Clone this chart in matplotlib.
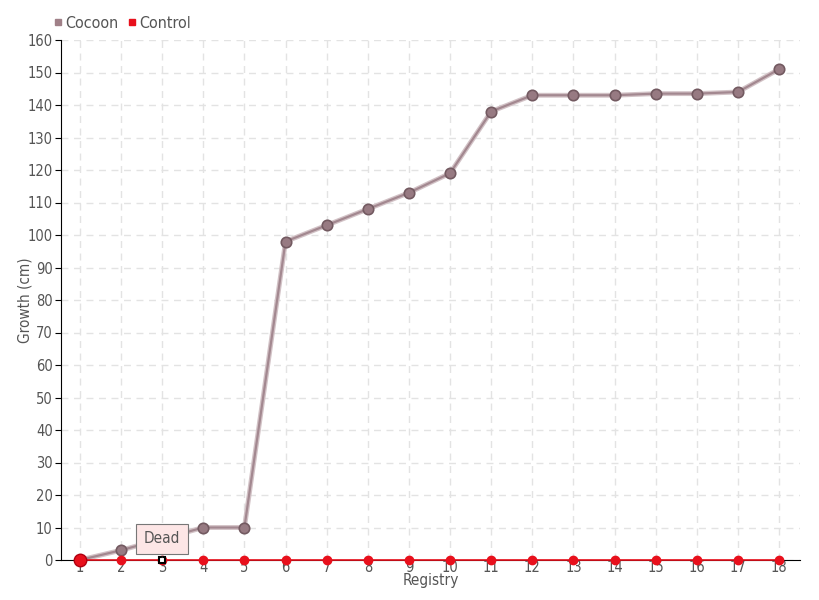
'''Growth registry chart: Cocoon vs Control'''

# ----------------------------------------------------------------------------
# Modules
from matplotlib import pyplot as plt
from matplotlib.lines import Line2D
import numpy as np

# ----------------------------------------------------------------------------
# Data
registry = list(range(1, 19))
cocoon = [0, 3, 6.5, 10, 10, 98, 103, 108, 113, 119, 138, 143, 143, 143,
          143.5, 143.5, 144, 151]
control = [0] * 18
dead_at = 3
y_ticks = list(range(0, 161, 10))

# ----------------------------------------------------------------------------


def main():
    plt.rcParams['font.family'] = ['DejaVu Sans']
    plt.rcParams['font.stretch'] = 'condensed'
    text_col = '#555555'

    fig = plt.figure(figsize=(8.2, 6), dpi=100)
    ax = fig.add_axes([61 / 820, 40 / 600, 739 / 820, 520 / 600])

    ax.grid(True, linestyle=(0, (5, 4)), color='#e3e3e3', linewidth=1)
    ax.set_axisbelow(True)

    # Cocoon line (with slight shadow)
    ax.plot(registry, cocoon, color='#d2c2c6', linewidth=3.5, zorder=2)
    ax.plot(registry, cocoon, color='#a38890', linewidth=1.6, marker='o',
            markersize=7.5, markerfacecolor='#977a82',
            markeredgecolor='#735a61', markeredgewidth=1.2, zorder=3)

    # Control line
    ax.plot(registry, control, color='#e8101c', linewidth=1.2, marker='o',
            markersize=6, markerfacecolor='#e8101c', markeredgecolor='#e8101c',
            zorder=4, clip_on=False)
    ax.plot([1], [0], marker='o', markersize=9, color='#e8101c',
            markeredgecolor='#b00010', zorder=5, clip_on=False)
    ax.plot([dead_at], [0], marker='s', markersize=5, markerfacecolor='white',
            markeredgecolor='black', markeredgewidth=1.5, zorder=6,
            clip_on=False)

    # Tooltip
    ax.annotate('Dead', xy=(dead_at, 0), xytext=(dead_at, 6.5),
                ha='center', va='center', fontsize=11, color=text_col,
                bbox=dict(boxstyle='square,pad=0.5', fc='#fde6e6',
                          ec='#777777', lw=0.8),
                arrowprops=dict(arrowstyle='-', color='#777777', lw=0.8),
                zorder=7)

    ax.set_xlim(0.54, 18.51)
    ax.set_ylim(0, 160)
    ax.set_xticks(registry)
    ax.set_yticks(y_ticks)
    ax.tick_params(axis='y', direction='out', length=4, color='black',
                   labelsize=10.5, labelcolor=text_col, pad=2)
    ax.tick_params(axis='x', length=0, labelsize=10.5, labelcolor=text_col,
                   pad=0)

    for side in ['top', 'right']:
        ax.spines[side].set_visible(False)
    ax.spines['left'].set_color('black')
    ax.spines['bottom'].set_color('black')

    ax.set_xlabel('Registry', fontsize=11, color=text_col, va='center')
    ax.xaxis.set_label_coords(0.5, -21 / 520)
    ax.set_ylabel('Growth (cm)', fontsize=11, color=text_col, va='center')
    ax.yaxis.set_label_coords(-36 / 739, 0.5)

    handles = [Line2D([], [], linestyle='none', marker='s', markersize=5,
                      color='#a08088'),
               Line2D([], [], linestyle='none', marker='s', markersize=5,
                      color='#e8101c')]
    fig.legend(handles, ['Cocoon', 'Control'], loc='upper left',
               bbox_to_anchor=(0.048, 0.998), ncol=2, frameon=False,
               fontsize=11.5, handlelength=0.5, handletextpad=0.2,
               columnspacing=0.6, labelcolor=text_col)

    fig.savefig('out.png', dpi=100)

    return None

# ----------------------------------------------------------------------------


if __name__ == "__main__":
    main()
